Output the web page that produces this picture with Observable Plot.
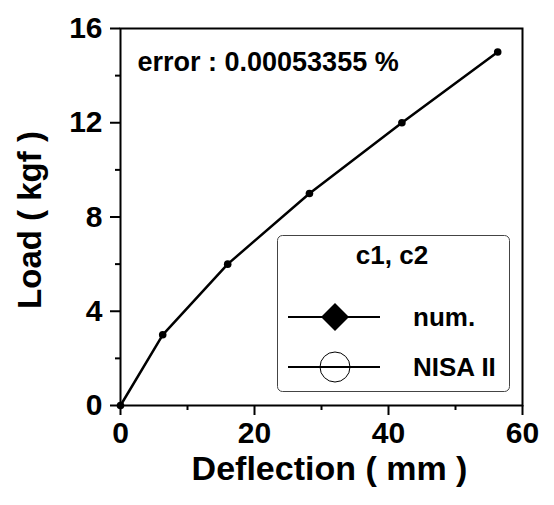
<!DOCTYPE html>
<html><head><meta charset="utf-8">
<script src="https://cdn.jsdelivr.net/npm/d3@7"></script>
<script src="https://cdn.jsdelivr.net/npm/@observablehq/plot@0.6"></script>
<style>
body{margin:0;background:#fff;font-family:"Liberation Sans",Arial,sans-serif}
#wrap{position:relative;width:554px;height:505px}
#legend{position:absolute;left:277px;top:235px}
</style></head><body><div id="wrap"></div>
<script>
const deflection = [0, 6.3, 16, 28.2, 42, 56.3];
const load = [0, 3, 6, 9, 12, 15];
const xTicks = [0, 20, 40, 60];
const xMinor = [10, 30, 50];
const yTicks = [0, 4, 8, 12, 16];
const yMinor = [2, 6, 10, 14];
const errorText = "error : 0.00053355 %";
const legendTitle = "c1, c2";
const seriesNames = ["num.", "NISA II"];
const data = deflection.map((d, i) => ({x: d, y: load[i]}));

const chart = Plot.plot({
  width: 554, height: 505,
  marginLeft: 120, marginRight: 32, marginTop: 28, marginBottom: 100,
  style: {fontFamily: '"Liberation Sans", Arial, sans-serif', fontWeight: "bold", color: "black", background: "white"},
  x: {domain: [0, 60]},
  y: {domain: [0, 16]},
  marks: [
    Plot.axisY({ticks: yTicks, tickSize: 10, tickPadding: 8, fontSize: 30, fontWeight: "bold", strokeWidth: 2, label: null}),
    Plot.axisY({ticks: yMinor, tickSize: 5, tickFormat: () => "", strokeWidth: 2, label: null}),
    Plot.axisX({ticks: xTicks, tickSize: 10, tickPadding: 6, fontSize: 30, fontWeight: "bold", strokeWidth: 2, label: null}),
    Plot.axisX({ticks: xMinor, tickSize: 5, tickFormat: () => "", strokeWidth: 2, label: null}),
    Plot.frame({stroke: "black", strokeWidth: 2}),
    Plot.line(data, {x: "x", y: "y", stroke: "black", strokeWidth: 2.5}),
    Plot.dot(data, {x: "x", y: "y", r: 3.8, fill: "black", stroke: "none"}),
    Plot.text([errorText], {frameAnchor: "top-left", textAnchor: "start", lineAnchor: "middle", dx: 17, dy: 34, fontSize: 27, fontWeight: "bold", fill: "black"}),
    Plot.text(["Deflection ( mm )"], {frameAnchor: "bottom", textAnchor: "middle", lineAnchor: "middle", dx: 8, dy: 64, fontSize: 34, fontWeight: "bold", fill: "black"}),
    Plot.text(["Load ( kgf )"], {frameAnchor: "left", textAnchor: "middle", lineAnchor: "middle", rotate: -90, dx: -90, dy: 3, fontSize: 33, fontWeight: "bold", fill: "black"})
  ]
});
const wrap = document.getElementById("wrap");
wrap.appendChild(chart);

// legend overlay
const lw = 233, lh = 157;
const leg = d3.create("svg").attr("id", "legend").attr("width", lw).attr("height", lh)
  .style("font-family", '"Liberation Sans", Arial, sans-serif').style("font-weight", "bold");
leg.append("rect").attr("x", 0.5).attr("y", 0.5).attr("width", lw - 1).attr("height", lh - 1)
  .attr("rx", 5).attr("fill", "white").attr("stroke", "#444").attr("stroke-width", 1);
leg.append("text").attr("x", 115).attr("y", 29).attr("text-anchor", "middle").attr("font-size", 26).text(legendTitle);
const rows = [82, 132];
rows.forEach((ry, i) => {
  leg.append("line").attr("x1", 11).attr("x2", 103).attr("y1", ry).attr("y2", ry).attr("stroke", "black").attr("stroke-width", 2);
  if (i === 0) {
    leg.append("path").attr("d", `M58,${ry-14} L72,${ry} L58,${ry+14} L44,${ry} Z`).attr("fill", "black");
  } else {
    leg.append("circle").attr("cx", 58).attr("cy", ry).attr("r", 15).attr("fill", "none").attr("stroke", "black").attr("stroke-width", 1);
  }
  leg.append("text").attr("x", 136).attr("y", ry).attr("dy", "0.35em").attr("font-size", 26).text(seriesNames[i]);
});
wrap.appendChild(leg.node());
</script>
</body></html>
